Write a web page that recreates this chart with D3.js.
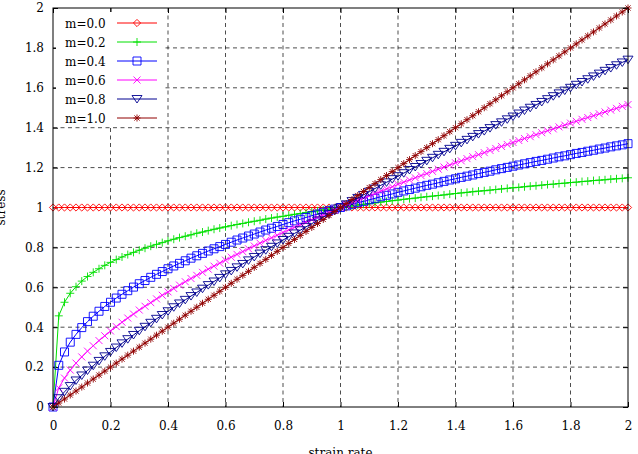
<!DOCTYPE html>
<html><head><meta charset="utf-8">
<script src="https://cdn.jsdelivr.net/npm/d3@7/dist/d3.min.js"></script>
<style>body{margin:0;background:#fff}svg{display:block}text{font-family:"DejaVu Serif",serif}</style>
</head><body>
<svg id="c" width="638" height="454"></svg>
<script>
const xs = [0,0.02,0.04,0.06,0.08,0.10,0.12,0.14,0.16,0.18,0.20,
0.22,0.24,0.26,0.28,0.30,0.32,0.34,0.36,0.38,0.40,
0.42,0.44,0.46,0.48,0.50,0.52,0.54,0.56,0.58,0.60,
0.62,0.64,0.66,0.68,0.70,0.72,0.74,0.76,0.78,0.80,
0.82,0.84,0.86,0.88,0.90,0.92,0.94,0.96,0.98,1.00,
1.02,1.04,1.06,1.08,1.10,1.12,1.14,1.16,1.18,1.20,
1.22,1.24,1.26,1.28,1.30,1.32,1.34,1.36,1.38,1.40,
1.42,1.44,1.46,1.48,1.50,1.52,1.54,1.56,1.58,1.60,
1.62,1.64,1.66,1.68,1.70,1.72,1.74,1.76,1.78,1.80,
1.82,1.84,1.86,1.88,1.90,1.92,1.94,1.96,1.98,2.00];

const m00 = [1,1,1,1,1,1,1,1,1,1,1,
1,1,1,1,1,1,1,1,1,1,
1,1,1,1,1,1,1,1,1,1,
1,1,1,1,1,1,1,1,1,1,
1,1,1,1,1,1,1,1,1,1,
1,1,1,1,1,1,1,1,1,1,
1,1,1,1,1,1,1,1,1,1,
1,1,1,1,1,1,1,1,1,1,
1,1,1,1,1,1,1,1,1,1,
1,1,1,1,1,1,1,1,1,1];

const m02 = [0,0.457,0.525,0.570,0.603,0.631,0.654,0.675,0.693,0.710,0.725,
0.739,0.752,0.764,0.775,0.786,0.796,0.806,0.815,0.824,0.833,
0.841,0.849,0.856,0.863,0.871,0.877,0.884,0.891,0.897,0.903,
0.909,0.915,0.920,0.926,0.931,0.936,0.942,0.947,0.952,0.956,
0.961,0.966,0.970,0.975,0.979,0.983,0.988,0.992,0.996,1.000,
1.004,1.008,1.012,1.016,1.019,1.023,1.027,1.030,1.034,1.037,
1.041,1.044,1.047,1.051,1.054,1.057,1.060,1.063,1.067,1.070,
1.073,1.076,1.079,1.082,1.084,1.087,1.090,1.093,1.096,1.099,
1.101,1.104,1.107,1.109,1.112,1.115,1.117,1.120,1.122,1.125,
1.127,1.130,1.132,1.135,1.137,1.139,1.142,1.144,1.146,1.149];

const m04 = [0,0.209,0.276,0.325,0.364,0.398,0.428,0.455,0.480,0.504,0.525,
0.546,0.565,0.583,0.601,0.618,0.634,0.650,0.665,0.679,0.693,
0.707,0.720,0.733,0.746,0.758,0.770,0.782,0.793,0.804,0.815,
0.826,0.837,0.847,0.857,0.867,0.877,0.887,0.896,0.905,0.915,
0.924,0.933,0.941,0.950,0.959,0.967,0.976,0.984,0.992,1.000,
1.008,1.016,1.024,1.031,1.039,1.046,1.054,1.061,1.068,1.076,
1.083,1.090,1.097,1.104,1.111,1.117,1.124,1.131,1.138,1.144,
1.151,1.157,1.163,1.170,1.176,1.182,1.189,1.195,1.201,1.207,
1.213,1.219,1.225,1.231,1.236,1.242,1.248,1.254,1.259,1.265,
1.271,1.276,1.282,1.287,1.293,1.298,1.304,1.309,1.314,1.320];

const m06 = [0,0.096,0.145,0.185,0.220,0.251,0.280,0.307,0.333,0.357,0.381,
0.403,0.425,0.446,0.466,0.486,0.505,0.523,0.542,0.560,0.577,
0.594,0.611,0.628,0.644,0.660,0.675,0.691,0.706,0.721,0.736,
0.751,0.765,0.779,0.793,0.807,0.821,0.835,0.848,0.861,0.875,
0.888,0.901,0.913,0.926,0.939,0.951,0.964,0.976,0.988,1.000,
1.012,1.024,1.036,1.047,1.059,1.070,1.082,1.093,1.104,1.116,
1.127,1.138,1.149,1.160,1.170,1.181,1.192,1.203,1.213,1.224,
1.234,1.245,1.255,1.265,1.275,1.286,1.296,1.306,1.316,1.326,
1.336,1.346,1.355,1.365,1.375,1.385,1.394,1.404,1.413,1.423,
1.432,1.442,1.451,1.460,1.470,1.479,1.488,1.497,1.507,1.516];

const m08 = [0,0.044,0.076,0.105,0.133,0.158,0.183,0.207,0.231,0.254,0.276,
0.298,0.319,0.340,0.361,0.382,0.402,0.422,0.442,0.461,0.480,
0.500,0.519,0.537,0.556,0.574,0.593,0.611,0.629,0.647,0.665,
0.682,0.700,0.717,0.735,0.752,0.769,0.786,0.803,0.820,0.837,
0.853,0.870,0.886,0.903,0.919,0.935,0.952,0.968,0.984,1.000,
1.016,1.032,1.048,1.063,1.079,1.095,1.111,1.126,1.142,1.157,
1.172,1.188,1.203,1.218,1.234,1.249,1.264,1.279,1.294,1.309,
1.324,1.339,1.354,1.368,1.383,1.398,1.413,1.427,1.442,1.456,
1.471,1.486,1.500,1.514,1.529,1.543,1.558,1.572,1.586,1.600,
1.615,1.629,1.643,1.657,1.671,1.685,1.699,1.713,1.727,1.741];

const m10 = [0,0.02,0.04,0.06,0.08,0.10,0.12,0.14,0.16,0.18,0.20,
0.22,0.24,0.26,0.28,0.30,0.32,0.34,0.36,0.38,0.40,
0.42,0.44,0.46,0.48,0.50,0.52,0.54,0.56,0.58,0.60,
0.62,0.64,0.66,0.68,0.70,0.72,0.74,0.76,0.78,0.80,
0.82,0.84,0.86,0.88,0.90,0.92,0.94,0.96,0.98,1.00,
1.02,1.04,1.06,1.08,1.10,1.12,1.14,1.16,1.18,1.20,
1.22,1.24,1.26,1.28,1.30,1.32,1.34,1.36,1.38,1.40,
1.42,1.44,1.46,1.48,1.50,1.52,1.54,1.56,1.58,1.60,
1.62,1.64,1.66,1.68,1.70,1.72,1.74,1.76,1.78,1.80,
1.82,1.84,1.86,1.88,1.90,1.92,1.94,1.96,1.98,2.00];

const seriesNames = ["m=0.0","m=0.2","m=0.4","m=0.6","m=0.8","m=1.0"];
const seriesValues = [m00, m02, m04, m06, m08, m10];
const xTicks = [0,0.2,0.4,0.6,0.8,1,1.2,1.4,1.6,1.8,2];
const yTicks = [0,0.2,0.4,0.6,0.8,1,1.2,1.4,1.6,1.8,2];
const xTitle = "strain rate";
const yTitle = "stress";

// styles
const colors = ["#ff0000","#00e000","#0000ff","#ff00ff","#000090","#900000"];
const markerKinds = ["diamond","plus","square","cross","tridown","star"];

const L = 53, R = 628, T = 8, B = 407;
const svg = d3.select("#c");
const x = d3.scaleLinear().domain([0,2]).range([L,R]);
const y = d3.scaleLinear().domain([0,2]).range([B,T]);
const fmt = d => d3.format("~g")(d);

// grid
const grid = svg.append("g").attr("stroke","#000").attr("stroke-width",0.7).attr("stroke-dasharray","4,3.5");
grid.selectAll("line.gx").data(xTicks.slice(1,-1)).join("line")
  .attr("x1",d=>x(d)).attr("x2",d=>x(d)).attr("y1",T).attr("y2",B);
grid.selectAll("line.gy").data(yTicks.slice(1,-1)).join("line")
  .attr("y1",d=>y(d)).attr("y2",d=>y(d)).attr("x1",L).attr("x2",R);

// axes (inward ticks, all four sides)
const axB = svg.append("g").attr("transform",`translate(0,${B})`)
  .call(d3.axisBottom(x).tickValues(xTicks).tickFormat(fmt).tickSizeInner(-5).tickSizeOuter(0).tickPadding(14));
const axT = svg.append("g").attr("transform",`translate(0,${T})`)
  .call(d3.axisTop(x).tickValues(xTicks).tickFormat("").tickSizeInner(-5).tickSizeOuter(0));
const axL = svg.append("g").attr("transform",`translate(${L},0)`)
  .call(d3.axisLeft(y).tickValues(yTicks).tickFormat(fmt).tickSizeInner(-5).tickSizeOuter(0).tickPadding(9));
const axR = svg.append("g").attr("transform",`translate(${R},0)`)
  .call(d3.axisRight(y).tickValues(yTicks).tickFormat("").tickSizeInner(-5).tickSizeOuter(0));
[axB,axT,axL,axR].forEach(a=>{
  a.select(".domain").remove();
  a.selectAll("text").attr("font-family","DejaVu Serif").attr("font-size",12).attr("fill","#000");
  a.selectAll("line").attr("stroke","#000");
});

// marker paths
function markerPath(kind){
  switch(kind){
    case "diamond": return "M0,-3.6L3.6,0L0,3.6L-3.6,0Z";
    case "plus": return "M-4,0H4M0,-4V4";
    case "square": return "M-4,-4H4V4H-4Z";
    case "cross": return "M-3.5,-3.5L3.5,3.5M-3.5,3.5L3.5,-3.5";
    case "tridown": return "M-5,-3.5L5,-3.5L0,4Z";
    case "star": return "M-3.5,0H3.5M0,-3.5V3.5M-2.6,-2.6L2.6,2.6M-2.6,2.6L2.6,-2.6";
  }
}

const clip = svg.append("clipPath").attr("id","pc").append("rect")
  .attr("x",L-6).attr("y",T-6).attr("width",R-L+12).attr("height",B-T+12);

const line = d3.line().x(d=>x(d[0])).y(d=>y(d[1]));
const plot = svg.append("g");
seriesValues.forEach((vals,i)=>{
  const pts = xs.map((xv,j)=>[xv, vals[j]]);
  const g = plot.append("g");
  g.append("path").attr("d",line(pts)).attr("fill","none").attr("stroke",colors[i]).attr("stroke-width",1);
  g.selectAll("path.m").data(pts).join("path").attr("class","m")
    .attr("transform",d=>`translate(${x(d[0])},${y(d[1])})`)
    .attr("d",markerPath(markerKinds[i]))
    .attr("fill","none").attr("stroke",colors[i]).attr("stroke-width",0.9);
});

// border
svg.append("rect").attr("x",L).attr("y",T).attr("width",R-L).attr("height",B-T)
  .attr("fill","none").attr("stroke","#000").attr("stroke-width",1);

// legend
const lg = svg.append("g");
lg.append("rect").attr("x",56).attr("y",12).attr("width",108).attr("height",113).attr("fill","#fff");
seriesNames.forEach((n,i)=>{
  const yy = 23 + i*19;
  lg.append("text").attr("x",65).attr("y",yy+4.5).attr("font-size",12).attr("fill","#000").text(n);
  lg.append("line").attr("x1",117).attr("x2",157).attr("y1",yy).attr("y2",yy)
    .attr("stroke",colors[i]).attr("stroke-width",1);
  lg.append("path").attr("transform",`translate(137,${yy})`).attr("d",markerPath(markerKinds[i]))
    .attr("fill","none").attr("stroke",colors[i]).attr("stroke-width",0.9);
});

// axis titles
svg.append("text").attr("x",(L+R)/2).attr("y",457).attr("text-anchor","middle")
  .attr("font-size",12).attr("fill","#000").text(xTitle);
svg.append("text").attr("transform",`translate(5,${(T+B)/2}) rotate(-90)`).attr("text-anchor","middle")
  .attr("font-size",12).attr("fill","#000").text(yTitle);
</script>
</body></html>
